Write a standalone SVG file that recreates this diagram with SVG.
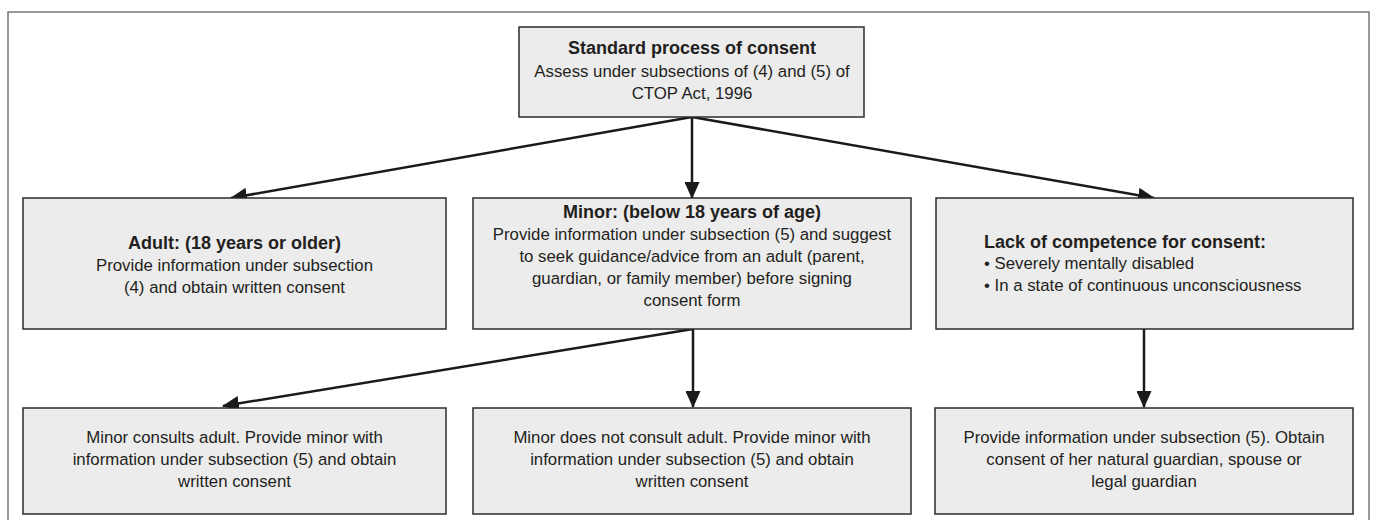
<svg xmlns="http://www.w3.org/2000/svg" width="1375" height="520" viewBox="0 0 1375 520">
<style>
.box{fill:#ececec;stroke:#2b2b2b;stroke-width:1.5}
.t{font-family:"Liberation Sans",Arial,sans-serif;font-size:16.8px;fill:#231f20}
.c{text-anchor:middle}
.b{font-weight:bold;font-size:18px}
.con{stroke:#1a1a1a;stroke-width:2.5;fill:none;marker-end:url(#ah)}
</style>
<defs>
<marker id="ah" markerUnits="userSpaceOnUse" markerWidth="17" markerHeight="15" refX="16" refY="7.5" orient="auto">
<path d="M0,0 L17,7.5 L0,15 Z" fill="#1a1a1a"/>
</marker>
</defs>
<rect x="0" y="0" width="1375" height="520" fill="#fff"/>
<rect id="frame" x="8" y="12" width="1361" height="520" fill="none" stroke="#777" stroke-width="1.5"/>
<g id="connectors">
<line class="con" x1="692" y1="117" x2="231" y2="198"/>
<line class="con" x1="692" y1="117" x2="692" y2="198"/>
<line class="con" x1="692" y1="117" x2="1154" y2="198"/>
<line class="con" x1="693" y1="329" x2="223" y2="406"/>
<line class="con" x1="693" y1="329" x2="693" y2="407"/>
<line class="con" x1="1144" y1="329" x2="1144" y2="407"/>
</g>
<g id="top">
<rect class="box" x="519" y="27" width="345" height="90"/>
<text class="t c b" x="692" y="54">Standard process of consent</text>
<text class="t c" x="692" y="77">Assess under subsections of (4) and (5) of</text>
<text class="t c" x="692" y="99">CTOP Act, 1996</text>
</g>
<g id="adult">
<rect class="box" x="23" y="198" width="423" height="131"/>
<text class="t c b" x="234.5" y="249">Adult: (18 years or older)</text>
<text class="t c" x="234.5" y="271">Provide information under subsection</text>
<text class="t c" x="234.5" y="293">(4) and obtain written consent</text>
</g>
<g id="minor">
<rect class="box" x="473" y="198" width="438" height="131"/>
<text class="t c b" x="692" y="218">Minor: (below 18 years of age)</text>
<text class="t c" x="692" y="240">Provide information under subsection (5) and suggest</text>
<text class="t c" x="692" y="262">to seek guidance/advice from an adult (parent,</text>
<text class="t c" x="692" y="284">guardian, or family member) before signing</text>
<text class="t c" x="692" y="306">consent form</text>
</g>
<g id="lack">
<rect class="box" x="936" y="198" width="417" height="131"/>
<text class="t b" x="984" y="248">Lack of competence for consent:</text>
<text class="t" x="984" y="269">• Severely mentally disabled</text>
<text class="t" x="984" y="291">• In a state of continuous unconsciousness</text>
</g>
<g id="consults">
<rect class="box" x="23" y="408" width="423" height="106"/>
<text class="t c" x="234.5" y="443">Minor consults adult. Provide minor with</text>
<text class="t c" x="234.5" y="465">information under subsection (5) and obtain</text>
<text class="t c" x="234.5" y="487">written consent</text>
</g>
<g id="notconsult">
<rect class="box" x="473" y="408" width="438" height="106"/>
<text class="t c" x="692" y="443">Minor does not consult adult. Provide minor with</text>
<text class="t c" x="692" y="465">information under subsection (5) and obtain</text>
<text class="t c" x="692" y="487">written consent</text>
</g>
<g id="guardian">
<rect class="box" x="935" y="408" width="418" height="106"/>
<text class="t c" x="1144" y="443">Provide information under subsection (5). Obtain</text>
<text class="t c" x="1144" y="465">consent of her natural guardian, spouse or</text>
<text class="t c" x="1144" y="487">legal guardian</text>
</g>
</svg>
